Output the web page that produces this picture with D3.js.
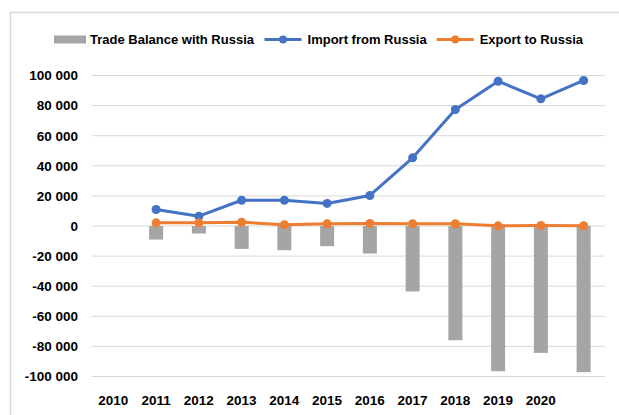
<!DOCTYPE html>
<meta charset="utf-8">
<style>
body { margin: 0; background: #fff; }
svg { display: block; }
.grid line { stroke: #d9d9d9; stroke-width: 1; }
.tick-label { font-family: "Liberation Sans", Arial, sans-serif; font-weight: bold; font-size: 13.5px; fill: #000; }
.legend text { font-family: "Liberation Sans", Arial, sans-serif; font-weight: bold; font-size: 13px; fill: #000; }
</style>
<svg width="619" height="415"></svg>
<script src="https://cdn.jsdelivr.net/npm/d3@7"></script>
<script>

// category labels along the bottom (last slot has no label)
var categories = ["2010", "2011", "2012", "2013", "2014", "2015", "2016", "2017", "2018", "2019", "2020", ""];

// series values, one per slot (first slot empty)
var tradeBalance = [null, -9000, -5000, -15200, -16100, -13400, -18300, -43500, -75900, -96500, -84300, -97100];
var importRussia = [null, 11000, 6500, 17100, 17100, 15000, 20300, 45300, 77400, 96200, 84500, 96700];
var exportRussia = [null, 2100, 2100, 2500, 800, 1500, 1700, 1500, 1500, 100, 300, 200];

var yTicks = [-100000, -80000, -60000, -40000, -20000, 0, 20000, 40000, 60000, 80000, 100000];

var svg = d3.select("svg");

// chart frame (only top and left edges visible)
svg.append("path")
    .attr("d", "M10.5,415V12.5H619")
    .attr("fill", "none")
    .attr("stroke", "#d9d9d9")
    .attr("stroke-width", 1.5);

var x = d3.scaleBand()
    .domain(d3.range(categories.length))
    .range([92, 605]);

var y = d3.scaleLinear()
    .domain([-100000, 100000])
    .range([376.5, 75.5]);

var fmt = function(v) { return d3.format(",")(v).replace(/,/g, " ").replace("−", "-"); };

// gridlines
svg.append("g").attr("class", "grid")
  .selectAll("line")
  .data(yTicks)
  .enter().append("line")
    .attr("x1", 92).attr("x2", 605)
    .attr("y1", function(d) { return y(d); })
    .attr("y2", function(d) { return y(d); });

// y labels
svg.append("g")
  .selectAll("text")
  .data(yTicks)
  .enter().append("text")
    .attr("class", "tick-label")
    .attr("x", 78)
    .attr("y", function(d) { return y(d); })
    .attr("dy", "0.36em")
    .attr("text-anchor", "end")
    .text(fmt);

// x labels
svg.append("g")
  .selectAll("text")
  .data(categories)
  .enter().append("text")
    .attr("class", "tick-label")
    .attr("x", function(d, i) { return x(i) + x.bandwidth() / 2; })
    .attr("y", 405)
    .attr("text-anchor", "middle")
    .text(function(d) { return d; });

var cx = function(i) { return x(i) + x.bandwidth() / 2; };
var barW = 14;

// bars
svg.append("g")
  .selectAll("rect")
  .data(tradeBalance.map(function(v, i) { return {i: i, v: v}; }).filter(function(d) { return d.v != null; }))
  .enter().append("rect")
    .attr("x", function(d) { return cx(d.i) - barW / 2; })
    .attr("width", barW)
    .attr("y", function(d) { return y(Math.max(0, d.v)); })
    .attr("height", function(d) { return Math.abs(y(d.v) - y(0)); })
    .attr("fill", "#a5a5a5");

function drawSeries(values, color) {
  var pts = values.map(function(v, i) { return {i: i, v: v}; }).filter(function(d) { return d.v != null; });
  var line = d3.line()
      .x(function(d) { return cx(d.i); })
      .y(function(d) { return y(d.v); });
  var g = svg.append("g");
  g.append("path")
      .attr("d", line(pts))
      .attr("fill", "none")
      .attr("stroke", color)
      .attr("stroke-width", 3)
      .attr("stroke-linejoin", "round");
  g.selectAll("circle")
    .data(pts)
    .enter().append("circle")
      .attr("cx", function(d) { return cx(d.i); })
      .attr("cy", function(d) { return y(d.v); })
      .attr("r", 4.5)
      .attr("fill", color);
}

drawSeries(importRussia, "#4472c4");
drawSeries(exportRussia, "#ed7d31");

// legend
var legend = svg.append("g").attr("class", "legend");
var lx = 54, ly = 39.5;

legend.append("rect")
    .attr("x", lx).attr("y", ly - 4)
    .attr("width", 32).attr("height", 8)
    .attr("fill", "#a5a5a5");
var t1 = legend.append("text").attr("x", lx + 36).attr("y", ly + 4.5).text("Trade Balance with Russia");
lx = lx + 36 + t1.node().getComputedTextLength() + 10.5;

[["Import from Russia", "#4472c4"], ["Export to Russia", "#ed7d31"]].forEach(function(item) {
  legend.append("line")
      .attr("x1", lx).attr("x2", lx + 37)
      .attr("y1", ly).attr("y2", ly)
      .attr("stroke", item[1]).attr("stroke-width", 3);
  legend.append("circle")
      .attr("cx", lx + 18.5).attr("cy", ly).attr("r", 4)
      .attr("fill", item[1]);
  var t = legend.append("text").attr("x", lx + 43).attr("y", ly + 4.5).text(item[0]);
  lx = lx + 43 + t.node().getComputedTextLength() + 10;
});

</script>
